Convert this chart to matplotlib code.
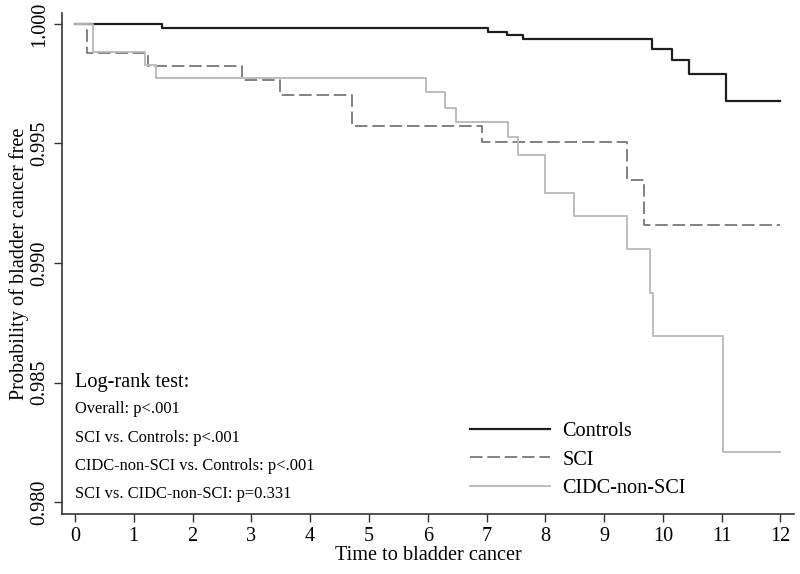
import matplotlib
matplotlib.use("Agg")
import numpy as np
import matplotlib.pyplot as plt

# Kaplan-Meier step points (time, survival)
ctrl_time = [0.0, 0.31, 1.48, 7.02, 7.35, 7.62, 9.81, 10.15, 10.44, 11.07, 12.0]
ctrl_surv = [1.0, 1.0, 0.99983, 0.99967, 0.99954, 0.99937, 0.99895, 0.99849, 0.99791, 0.99678, 0.99678]

sci_time = [0.0, 0.2, 1.24, 2.84, 3.49, 4.71, 6.92, 9.39, 9.68, 12.0]
sci_surv = [1.0, 0.9988, 0.99824, 0.99766, 0.99703, 0.99573, 0.99506, 0.99347, 0.99159, 0.99159]

cidc_time = [0.0, 0.31, 1.19, 1.38, 5.97, 6.29, 6.48, 7.36, 7.53, 7.99, 8.49, 9.39, 9.78, 9.83, 11.02, 12.0]
cidc_surv = [1.0, 0.99883, 0.99828, 0.99774, 0.99715, 0.99649, 0.99590, 0.99527, 0.99452, 0.99293,
             0.99197, 0.99059, 0.98875, 0.98695, 0.98209, 0.98209]

x_ticks = list(range(0, 13))
y_ticks = [0.980, 0.985, 0.990, 0.995, 1.000]

logrank_title = "Log-rank test:"
logrank_lines = ["Overall: p<.001",
                 "SCI vs. Controls: p<.001",
                 "CIDC-non-SCI vs. Controls: p<.001",
                 "SCI vs. CIDC-non-SCI: p=0.331"]

plt.rcParams['font.family'] = ['Liberation Serif', 'DejaVu Serif']
plt.rcParams['lines.scale_dashes'] = False

big = 14.6
small = 11.9

fig = plt.figure(figsize=(8, 5.74), dpi=100)
ax = fig.add_axes([0.0775, 0.1045, 0.915, 0.873])

ax.plot(ctrl_time, ctrl_surv, drawstyle='steps-post', color='#1e1e1e', lw=1.6, label='Controls')
ax.plot(sci_time, sci_surv, drawstyle='steps-post', color='#777777', lw=1.3,
        dashes=(9, 3.5), label='SCI')
ax.plot(cidc_time, cidc_surv, drawstyle='steps-post', color='#b8b8b8', lw=1.3, label='CIDC-non-SCI')

ax.set_xlim(-0.22, 12.23)
ax.set_ylim(0.9795, 1.00046)
ax.set_xticks(x_ticks)
ax.set_yticks(y_ticks)
ax.set_yticklabels(["%.3f" % v for v in y_ticks], rotation=90, va='center')
ax.tick_params(labelsize=big, length=6, width=1, color='#333333', direction='out', pad=3)
for s in ['top', 'right']:
    ax.spines[s].set_visible(False)
for s in ['left', 'bottom']:
    ax.spines[s].set_color('#333333')
    ax.spines[s].set_linewidth(1.2)

ax.set_xlabel("Time to bladder cancer", fontsize=big, labelpad=0)
ax.set_ylabel("Probability of bladder cancer free", fontsize=big, labelpad=1)

# log-rank annotation
ax.text(75 / 800, 1 - 383 / 574, logrank_title, transform=fig.transFigure,
        fontsize=big, va='center', ha='left')
for i, line in enumerate(logrank_lines):
    ax.text(75 / 800, 1 - (409 + 28.5 * i) / 574, line, transform=fig.transFigure,
            fontsize=small, va='center', ha='left')

ax.legend(loc='upper left', bbox_to_anchor=(470 / 800, 1 - 422 / 574),
          bbox_transform=fig.transFigure, frameon=False, fontsize=big,
          handlelength=3.95, handletextpad=0.6, labelspacing=0.45,
          borderpad=0, borderaxespad=0)

fig.savefig('out.png', dpi=100)
